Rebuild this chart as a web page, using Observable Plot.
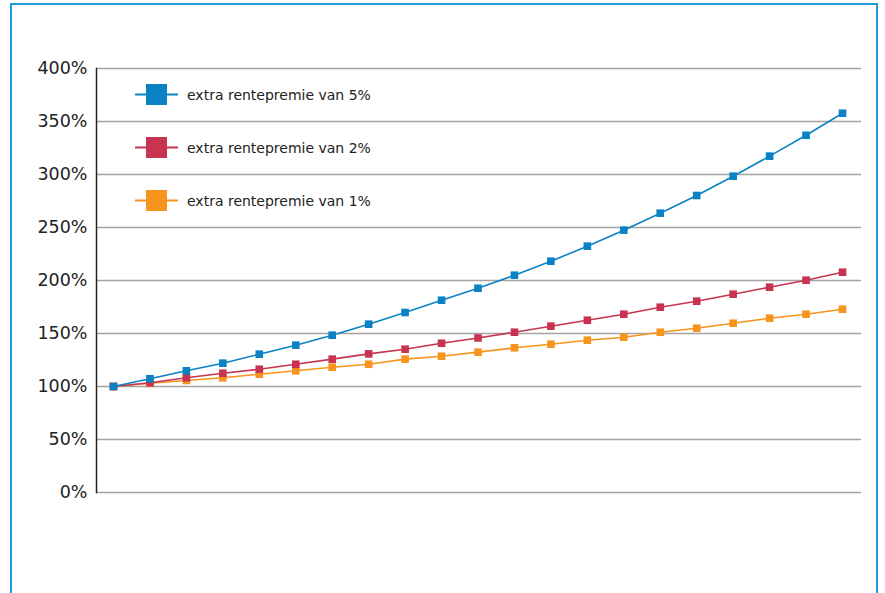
<!DOCTYPE html>
<html>
<head>
<meta charset="utf-8">
<script src="https://cdn.jsdelivr.net/npm/d3@7"></script>
<script src="https://cdn.jsdelivr.net/npm/@observablehq/plot@0.6"></script>
<style>
  html, body { margin: 0; padding: 0; background: #fff; }
  #wrap { position: relative; width: 885px; height: 593px; overflow: hidden; font-family: "DejaVu Sans", sans-serif; }
  #kader { position: absolute; left: 10px; top: 3px; width: 868px; height: 620px;
           border: 2px solid #1f9fd9; border-bottom: none; box-sizing: border-box; }
  #chart { position: absolute; left: 0; top: 0; }
  #legenda { position: absolute; left: 135px; top: 84px; }
  .item { display: flex; align-items: center; height: 21px; margin-bottom: 32px; }
  .item svg { flex: none; }
  .item span { margin-left: 9px; font-size: 14px; color: #222; white-space: nowrap; }
</style>
</head>
<body>
<div id="wrap">
  <div id="kader"></div>
  <div id="chart"></div>
  <div id="legenda"></div>
</div>
<script>
// Jaren (0 t/m 20) en de groei van de schuld per scenario, in procenten
const jaren = [0, 1, 2, 3, 4, 5, 6, 7, 8, 9, 10, 11, 12, 13, 14, 15, 16, 17, 18, 19, 20];
const premie5 = [100, 107.3, 114.8, 122, 130.5, 139, 148.4, 158.8, 169.8, 181.4, 192.7,
                 205, 218.2, 232.4, 247.5, 263.5, 280.2, 298.4, 317.3, 337, 357.8];
const premie2 = [100, 103.5, 108.2, 112.5, 116.3, 121, 125.8, 130.8, 135.2, 140.8, 145.8,
                 151.2, 156.9, 162.5, 168.2, 174.8, 180.5, 187.1, 193.7, 200.3, 207.8];
const premie1 = [100, 103, 105.7, 108.2, 111.6, 114.8, 118.2, 121, 125.8, 128.6, 132.4,
                 136.5, 139.9, 143.7, 146.5, 151.2, 155, 159.7, 164.4, 168.2, 172.9];
const yTicks = [0, 50, 100, 150, 200, 250, 300, 350, 400];

const reeksen = [
  {naam: "extra rentepremie van 5%", waarden: premie5, kleur: "#0a82c3"},
  {naam: "extra rentepremie van 2%", waarden: premie2, kleur: "#c8334f"},
  {naam: "extra rentepremie van 1%", waarden: premie1, kleur: "#f7941d"}
];

// Tekenvolgorde: oranje onderop, blauw bovenop
const marks = [
  Plot.ruleY(yTicks, {stroke: "#a3a3a3", strokeWidth: 1.5}),
  Plot.frame({anchor: "left", stroke: "#222", strokeWidth: 1.5}),
  Plot.axisY({ticks: yTicks, tickSize: 0, tickPadding: 9, tickFormat: d => d + "%",
              fontSize: 17.5, fill: "#222", label: null})
];
for (const r of [...reeksen].reverse()) {
  const rows = jaren.map((j, i) => ({jaar: j, waarde: r.waarden[i]}));
  marks.push(Plot.line(rows, {x: "jaar", y: "waarde", stroke: r.kleur, strokeWidth: 1.6}));
  marks.push(Plot.dot(rows, {x: "jaar", y: "waarde", symbol: "square", r: 4.3, fill: r.kleur, stroke: "none"}));
}

const chart = Plot.plot({
  width: 885,
  height: 593,
  marginLeft: 96,
  marginRight: 24,
  marginTop: 68,
  marginBottom: 101,
  style: {fontFamily: "'DejaVu Sans', sans-serif", background: "transparent"},
  x: {domain: [0, 20], range: [113, 842], axis: null},
  y: {domain: [0, 400]},
  marks
});
document.getElementById("chart").appendChild(chart);

// Legenda
const leg = document.getElementById("legenda");
for (const r of reeksen) {
  const item = document.createElement("div");
  item.className = "item";
  item.innerHTML =
    `<svg width="43" height="21"><line x1="0" x2="43" y1="10.5" y2="10.5" stroke="${r.kleur}" stroke-width="2"/>` +
    `<rect x="11" y="0" width="21" height="21" fill="${r.kleur}"/></svg><span>${r.naam}</span>`;
  leg.appendChild(item);
}
</script>
</body>
</html>
